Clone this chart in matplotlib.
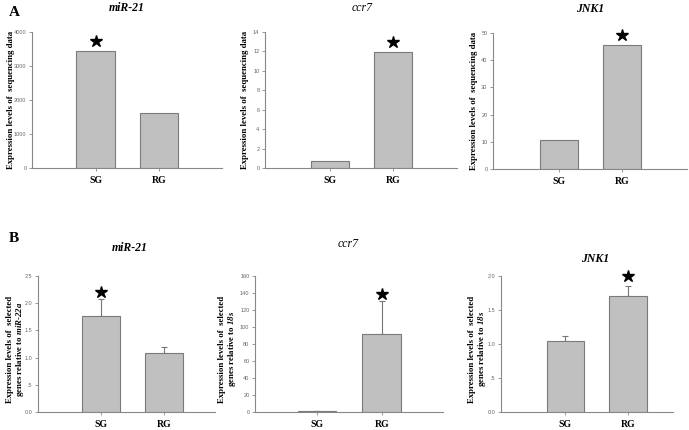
import matplotlib
matplotlib.use("Agg")
import matplotlib.pyplot as plt
import matplotlib.ticker as mticker
import matplotlib.transforms as mtrans

plt.rcParams['mathtext.fontset'] = 'custom'
plt.rcParams['mathtext.it'] = 'Liberation Serif:italic:bold'
plt.rcParams['mathtext.rm'] = 'Liberation Serif:italic:bold'

groups = ["SG", "RG"]

# Panel A: sequencing data
a_titles = ["miR-21", "ccr7", "JNK1"]
a_mir21 = [3430, 1627]
a_ccr7 = [0.69, 11.94]
a_jnk1 = [10.7, 45.7]
a_sig = [0, 1, 1]
a_yticks = [[0, 1000, 2000, 3000, 4000], list(range(0, 15, 2)), list(range(0, 51, 10))]

# Panel B: relative expression (qPCR), with upper error
b_titles = ["miR-21", "ccr7", "JNK1"]
b_mir21 = [1.77, 1.08]
b_mir21_err = [0.30, 0.12]
b_ccr7 = [1.0, 92.0]
b_ccr7_err = [0.0, 39.0]
b_jnk1 = [1.05, 1.70]
b_jnk1_err = [0.07, 0.16]
b_sig = [0, 1, 1]
b_yticks = [[0, 0.5, 1.0, 1.5, 2.0, 2.5], list(range(0, 161, 20)), [0, 0.5, 1.0, 1.5, 2.0]]
b_ylabels = ["miR-22a", "18s", "18s"]

W, H = 689, 430
fig = plt.figure(figsize=(W / 100, H / 100), dpi=100)

serif = "Liberation Serif"
sans = "Liberation Sans"
GRAY = "#888888"
BARC = "#c0c0c0"
EDGE = "#7a7a7a"


def add_axes(l, r, t, b):
    return fig.add_axes([l / W, (H - b) / H, (r - l) / W, (b - t) / H])


def fmt_dec(v, pos):
    if v == 0:
        return "0.0"
    s = "%.1f" % v
    if s.startswith("0"):
        s = s[1:]
    return s


def style(ax, yticks, xlim, dec=False):
    for s in ["top", "right"]:
        ax.spines[s].set_visible(False)
    for s in ["left", "bottom"]:
        ax.spines[s].set_color(GRAY)
        ax.spines[s].set_linewidth(0.8)
    ax.set_xlim(*xlim)
    ax.set_ylim(yticks[0], yticks[-1])
    ax.set_yticks(yticks)
    if dec:
        ax.yaxis.set_major_formatter(mticker.FuncFormatter(fmt_dec))
    ax.set_xticks(range(len(groups)))
    ax.set_xticklabels(groups, fontfamily=serif, fontweight="bold", fontsize=7)
    ax.tick_params(axis="y", labelsize=4, labelcolor="#666666", color=GRAY, length=2, width=0.6, pad=2)
    ax.tick_params(axis="x", color=GRAY, length=2, width=0.6, pad=4)
    for lab in ax.get_yticklabels():
        lab.set_fontfamily(sans)


def star(ax, x, y, off_px):
    ax.plot([x], [y], marker="*", color="black", markersize=9, linestyle="none",
            transform=ax.transData + mtrans.ScaledTranslation(0, off_px / 100, fig.dpi_scale_trans),
            clip_on=False)


a_pos = [(32, 222, 32, 168), (265, 457, 32, 168), (493, 687, 33, 169)]
a_xlim = [(-1.0, 1.99), (-1.03, 2.02), (-1.04, 2.02)]
a_vals = [a_mir21, a_ccr7, a_jnk1]
a_title_pos = [(127, 8), (362, 8), (590, 9)]
a_ylab_x = [11, 245, 474]
a_title_style = ["bold", "normal", "bold"]

for i in range(3):
    ax = add_axes(*a_pos[i])
    ax.bar(range(2), a_vals[i], width=0.6, color=BARC, edgecolor=EDGE, linewidth=0.8, zorder=2)
    style(ax, a_yticks[i], a_xlim[i])
    k = a_sig[i]
    star(ax, k, a_vals[i][k], 10)
    tx, ty = a_title_pos[i]
    fig.text(tx / W, 1 - ty / H, a_titles[i], fontfamily=serif, fontstyle="italic",
             fontweight=a_title_style[i], fontsize=8.5, ha="center", va="center")
    yc = (a_pos[i][2] + a_pos[i][3]) / 2
    fig.text(a_ylab_x[i] / W, 1 - yc / H, "Expression levels of  sequencing data", rotation=90,
             fontfamily=serif, fontweight="bold", fontsize=6.3, ha="center", va="center")

b_pos = [(38, 215, 276, 412), (255, 443, 276, 412), (501, 673, 276, 412)]
b_xlim = [(-1.0, 1.8), (-0.96, 1.95), (-1.03, 1.72)]
b_vals = [b_mir21, b_ccr7, b_jnk1]
b_errs = [b_mir21_err, b_ccr7_err, b_jnk1_err]
b_title_pos = [(130, 248), (348, 244), (595, 259)]
b_ylab_x = [16, 228, 478]
b_star_off = [7, 7, 10]
b_title_style = ["bold", "normal", "bold"]

for i in range(3):
    ax = add_axes(*b_pos[i])
    ax.bar(range(2), b_vals[i], width=0.6, color=BARC, edgecolor=EDGE, linewidth=0.8, zorder=2)
    ax.errorbar(range(2), b_vals[i], yerr=[[0, 0], b_errs[i]], fmt="none", ecolor="#777777",
                elinewidth=0.8, capsize=2.5, capthick=0.8, zorder=1)
    style(ax, b_yticks[i], b_xlim[i], dec=(i != 1))
    k = b_sig[i]
    star(ax, k, b_vals[i][k] + b_errs[i][k], b_star_off[i])
    tx, ty = b_title_pos[i]
    fig.text(tx / W, 1 - ty / H, b_titles[i], fontfamily=serif, fontstyle="italic",
             fontweight=b_title_style[i], fontsize=8.5, ha="center", va="center")
    ref = "$" + b_ylabels[i].replace("-", "$-$") + "$"
    fig.text(b_ylab_x[i] / W, 1 - 349 / H,
             "Expression levels of  selected\ngenes relative to " + ref,
             rotation=90, fontfamily=serif, fontweight="bold", fontsize=6.3, ha="center", va="center",
             multialignment="center", linespacing=1.0)

fig.text(14 / W, 1 - 13 / H, "A", fontfamily=serif, fontweight="bold", fontsize=11, ha="center", va="center")
fig.text(14 / W, 1 - 238 / H, "B", fontfamily=serif, fontweight="bold", fontsize=11, ha="center", va="center")

fig.savefig("out.png", dpi=100)
